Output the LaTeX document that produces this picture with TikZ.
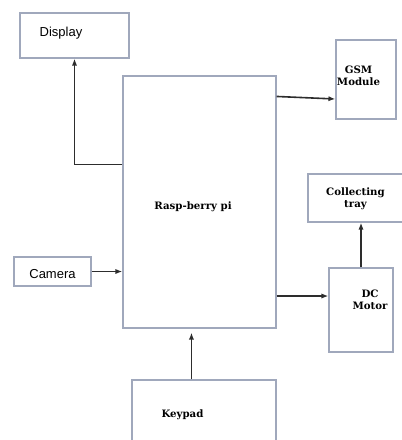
\documentclass[tikz,border=0pt]{standalone}
\usepackage{fontspec}
\setmainfont{DejaVu Serif}
\newfontfamily\labelsans{Liberation Sans}
\usetikzlibrary{arrows.meta,calc}
\definecolor{boxgray}{RGB}{160,168,188}
\definecolor{arrgray}{RGB}{45,45,45}
\tikzset{
	blk/.style={draw=boxgray,line width=0.55pt,inner sep=0pt},
	arr/.style={draw=arrgray,line width=0.8pt,-{Latex[length=3.5pt,width=2.6pt]}},
	boldtxt/.style={font=\fontsize{5.1}{6.2}\selectfont\bfseries,align=center,inner sep=0pt},
	sanstxt/.style={font=\labelsans\fontsize{6.5}{7.5}\selectfont,inner sep=0pt}
}

\begin{document}
\begin{tikzpicture}[x=0.5pt,y=-0.5pt]
			\clip (0,0) rectangle (402,440);
			\node[blk,minimum width=54.5pt,minimum height=22.5pt] (disp) at (74.5,35.5) {};
			\node[sanstxt] (dispT) at (61,33) {Display};
			\node[blk,minimum width=30pt,minimum height=39.5pt] (gsm) at (366,79.5) {};
			\node[boldtxt] (gsmT) at (358.5,76) {GSM\\Module};
			\node[blk,minimum width=76.5pt,minimum height=126pt] (rasp) at (199.5,202) {};
			\node[boldtxt] (raspT) at (193,207) {Rasp-berry pi};
			\node[blk,minimum width=51pt,minimum height=24pt] (tray) at (359,198) {};
			\node[boldtxt] (trayT) at (355.5,199) {Collecting\\tray};
			\node[blk,minimum width=38.5pt,minimum height=14.5pt] (cam) at (52.5,271.5) {};
			\node[sanstxt] (camT) at (52.5,274) {Camera};
			\node[blk,minimum width=32pt,minimum height=42pt] (mtr) at (361,310) {};
			\node[boldtxt] (mtrT) at (370,300) {DC\\Motor};
			\node[blk,minimum width=72pt,minimum height=34pt] (key) at (204,414) {};
			\node[boldtxt] (keyT) at (182.5,415) {Keypad};

			\draw[arr] ($(rasp.north west)+(0,89)$) -| (disp.south);
			\draw[arr] ($(rasp.north east)+(0,21)$) -- ($(gsm.west)+(0,19.5)$);
			\draw[arr] (cam.east) -- (cam.east -| rasp.west);
			\coordinate (mtrIn) at ($(mtr.west)+(0,-14)$);
			\draw[arr] (rasp.east |- mtrIn) -- (mtrIn);
			\draw[arr] (mtr.north) -- (mtr.north |- tray.south);
			\coordinate (keyOut) at ($(key.north west)+(60,0)$);
			\draw[arr,shorten >=2pt] (keyOut) -- (keyOut |- rasp.south);
		\end{tikzpicture}
\end{document}
